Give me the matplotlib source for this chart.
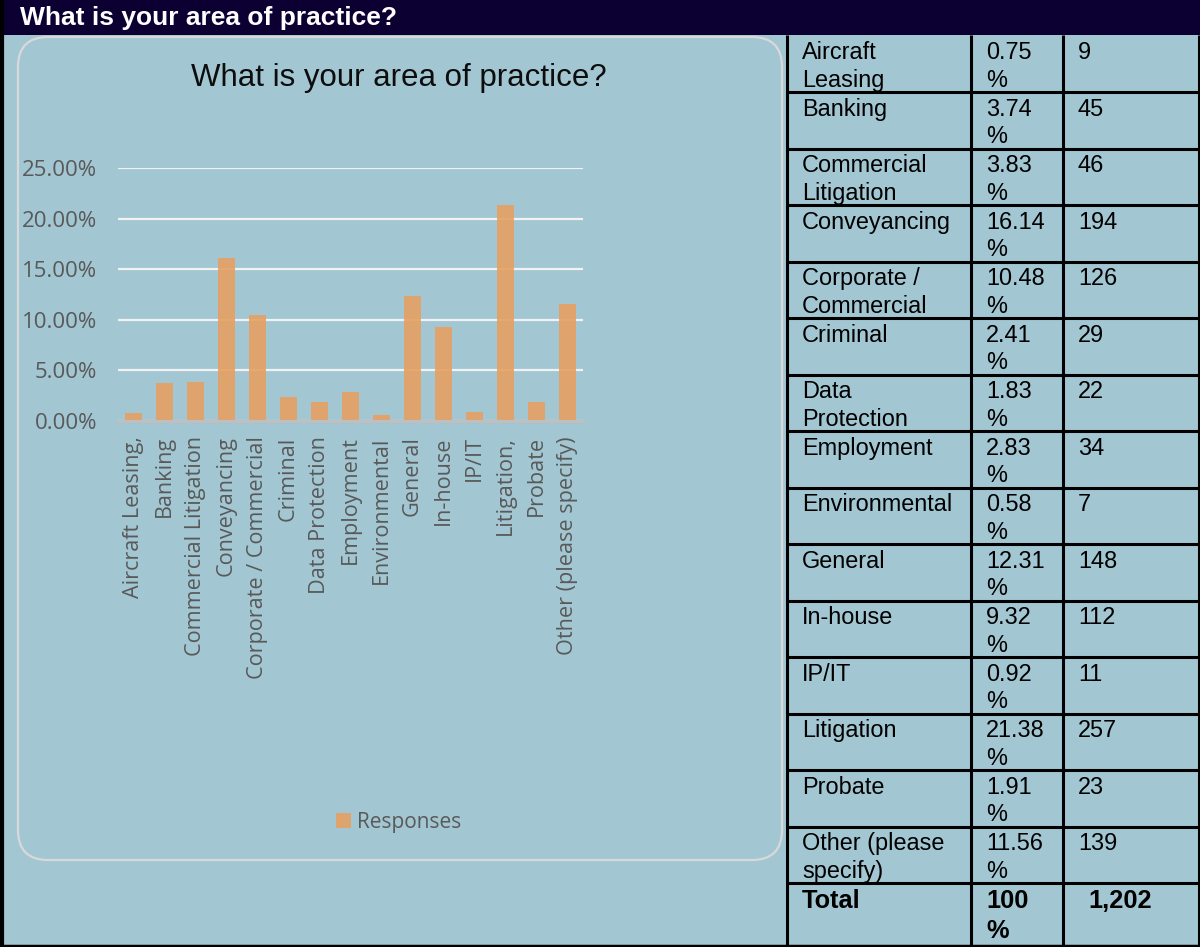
import matplotlib
matplotlib.use("Agg")
import matplotlib.pyplot as plt
from matplotlib.patches import Rectangle, FancyBboxPatch
from matplotlib.ticker import FuncFormatter

# ---- data -------------------------------------------------------------
question = "What is your area of practice?"
chart_labels = ["Aircraft Leasing,", "Banking", "Commercial Litigation", "Conveyancing",
                "Corporate / Commercial", "Criminal", "Data Protection", "Employment",
                "Environmental", "General", "In-house", "IP/IT", "Litigation,",
                "Probate", "Other (please specify)"]
table_labels = ["Aircraft\nLeasing", "Banking", "Commercial\nLitigation", "Conveyancing",
                "Corporate /\nCommercial", "Criminal", "Data\nProtection", "Employment",
                "Environmental", "General", "In-house", "IP/IT", "Litigation",
                "Probate", "Other (please\nspecify)"]
percents = [0.75, 3.74, 3.83, 16.14, 10.48, 2.41, 1.83, 2.83, 0.58, 12.31,
            9.32, 0.92, 21.38, 1.91, 11.56]
counts = [9, 45, 46, 194, 126, 29, 22, 34, 7, 148, 112, 11, 257, 23, 139]
total_label, total_pct, total_count = "Total", "100\n%", "1,202"
series_name = "Responses"
y_ticks = [0, 5, 10, 15, 20, 25]

# ---- styling ----------------------------------------------------------
W, H, DPI = 1200, 947, 100
BG = "#a2c6d2"
NAVY = "#0c0033"
BAR = "#e6a062"
GREY_TXT = "#595959"
TABLE_FONT = ["Liberation Sans", "DejaVu Sans"]
CHART_FONT = ["Open Sans", "DejaVu Sans"]

fig = plt.figure(figsize=(W / DPI, H / DPI), dpi=DPI, facecolor=BG)

# Pixel-space canvas for the frame, header, chart box and table
bg = fig.add_axes([0, 0, 1, 1])
bg.set_xlim(0, W)
bg.set_ylim(H, 0)
bg.axis("off")
bg.set_facecolor(BG)

# header bar
bg.add_patch(Rectangle((0, 0), W, 35, facecolor=NAVY, edgecolor="none"))
bg.text(20, 18, question, color="white", fontsize=19, fontweight="bold",
        family=TABLE_FONT, va="center", ha="left")

# rounded chart frame
bg.add_patch(FancyBboxPatch((18, 37), 764, 823,
                            boxstyle="round,pad=0,rounding_size=30",
                            facecolor=BG, edgecolor="#d9d9d9", linewidth=1.6))
bg.text(399, 78, question, fontsize=22.5, family=TABLE_FONT, color="#0d0d0d",
        ha="center", va="center")

# table grid
col_x = [787, 971, 1063, 1199]
row_h = 56.5
n_rows = len(table_labels) + 1
row_tops = [35.5 + k * row_h for k in range(n_rows)]
table_bottom = 945.5
for y in row_tops[1:]:
    bg.plot([col_x[0], col_x[-1]], [y, y], color="black", lw=2.2, solid_capstyle="butt")
for x in col_x:
    bg.plot([x, x], [35, table_bottom], color="black", lw=2.2, solid_capstyle="butt")
# outer frame of the page
bg.plot([1.5, 1.5], [0, H], color="black", lw=3)
bg.plot([0, W], [table_bottom, table_bottom], color="black", lw=2.5)


def cell(x, top, text, bold=False):
    size = 18.3 if bold else 16.9
    gap = 30 if bold else 27.8
    for k, line in enumerate(text.split("\n")):
        bg.text(x, top + 5.5 + k * gap, line, fontsize=size, family=TABLE_FONT,
                fontweight="bold" if bold else "normal", color="black",
                ha="left", va="top")


for i, (lab, p, c) in enumerate(zip(table_labels, percents, counts)):
    top = row_tops[i]
    cell(802, top, lab)
    cell(986, top, f"{p:.2f}\n%")
    cell(1078, top, str(c))
cell(802, row_tops[-1], total_label, bold=True)
cell(986, row_tops[-1], total_pct, bold=True)
cell(1088, row_tops[-1], total_count, bold=True)

# ---- bar chart --------------------------------------------------------
ax = fig.add_axes([118 / W, 1 - 421 / H, (583 - 118) / W, (421 - 168) / H])
ax.set_facecolor("none")
x = list(range(len(chart_labels)))
ax.bar(x, percents, width=0.55, color=BAR, alpha=0.9, zorder=3, label=series_name)
ax.set_xlim(-0.5, len(chart_labels) - 0.5)
ax.set_ylim(0, 25)
ax.set_yticks(y_ticks)
ax.yaxis.set_major_formatter(FuncFormatter(lambda v, _: f"{v:.2f}%"))
ax.grid(axis="y", color="#f2f2f2", linewidth=1.6, zorder=1)
ax.set_axisbelow(True)
for side in ("top", "right", "left"):
    ax.spines[side].set_visible(False)
ax.spines["bottom"].set_color("#bfbfbf")
ax.spines["bottom"].set_linewidth(2.2)
ax.spines["bottom"].set_zorder(4)
ax.set_xticks(x)
ax.set_xticklabels(chart_labels, rotation=90, fontsize=15.6, family=CHART_FONT,
                   color=GREY_TXT)
ax.tick_params(axis="x", length=0, pad=11)
ax.tick_params(axis="y", length=0, pad=15, labelsize=16, labelcolor=GREY_TXT)
for t in ax.get_yticklabels():
    t.set_family(CHART_FONT)

leg = ax.legend(loc="center", bbox_to_anchor=(399 / W, 1 - 822 / H),
                bbox_transform=fig.transFigure, frameon=False,
                prop={"family": CHART_FONT, "size": 15},
                handlelength=0.7, handleheight=0.7, handletextpad=0.3)
for t in leg.get_texts():
    t.set_color(GREY_TXT)

fig.savefig("out.png", dpi=DPI, facecolor=BG)
